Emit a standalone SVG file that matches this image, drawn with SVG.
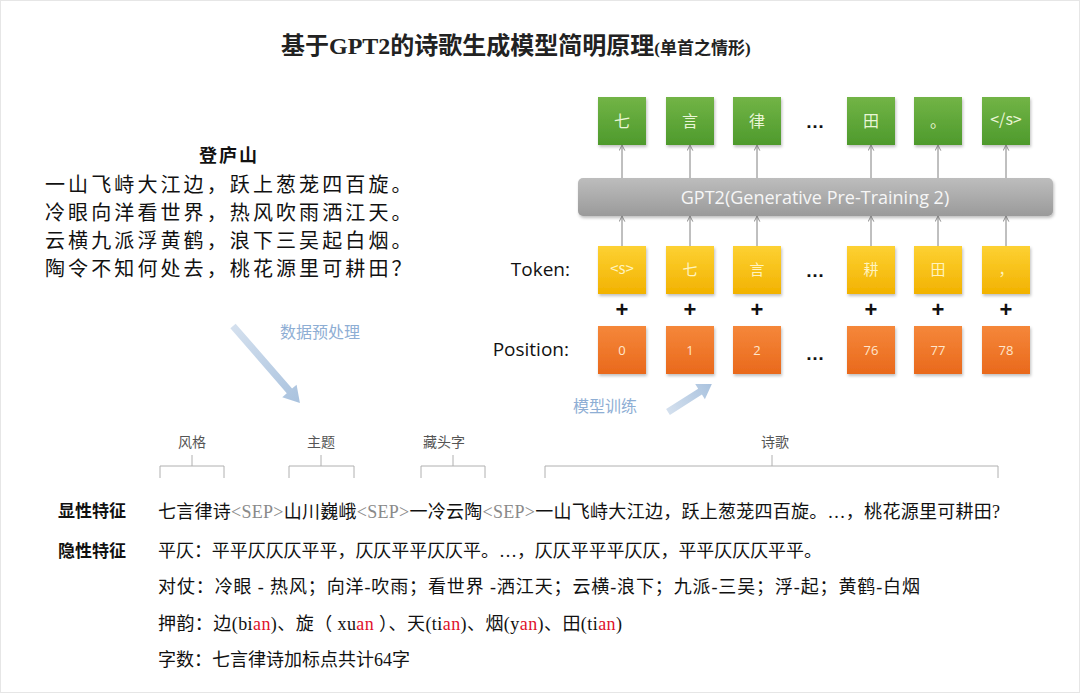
<svg xmlns="http://www.w3.org/2000/svg" width="1080" height="693" viewBox="0 0 1080 693">
<style>
.title{font-family:"Liberation Serif","Noto Sans CJK SC",serif;font-weight:bold;fill:#222}
.poem{font-family:"Noto Sans CJK SC",serif;fill:#111}
.lab{font-family:"Open Sans","Liberation Sans",sans-serif;font-size:19px;fill:#111}
.blue{font-family:"Noto Sans CJK SC",sans-serif;font-size:16px;fill:#8eaed4}
.gtxt{font-family:"Noto Sans CJK SC",sans-serif;font-size:16px;fill:#eaf6d6;text-anchor:middle}
.ytxt{font-family:"Noto Sans CJK SC",sans-serif;font-size:15px;fill:#fff3bf;text-anchor:middle}
.otxt{font-family:"Open Sans","Liberation Sans",sans-serif;font-size:13px;fill:#ffe6cc;text-anchor:middle}
.dots{font-family:"Liberation Sans",sans-serif;font-size:19px;font-weight:bold;fill:#111;text-anchor:middle}
.plus{font-family:"Liberation Sans",sans-serif;font-size:22px;font-weight:bold;fill:#111;text-anchor:middle}
.seg{font-family:"Noto Sans CJK SC",sans-serif;font-size:14px;fill:#555;text-anchor:middle}
.body{font-family:"Liberation Serif","Noto Sans CJK SC",serif;font-size:18px;fill:#111}
.head{font-family:"Noto Sans CJK SC",sans-serif;font-size:17px;font-weight:bold;fill:#111}
.sep{fill:#8a8a8a}
.red{fill:#e0102a}
.conn{stroke:#808080;stroke-width:1;fill:none;marker-end:url(#ah)}
.br{stroke:#b0b0b0;stroke-width:1;fill:none}
</style>
<defs>
<linearGradient id="gG" x1="0" y1="0" x2="0" y2="1"><stop offset="0" stop-color="#72b446"/><stop offset="1" stop-color="#4e9a2c"/></linearGradient>
<linearGradient id="gY" x1="0" y1="0" x2="0" y2="1"><stop offset="0" stop-color="#fdd133"/><stop offset="1" stop-color="#f2b200"/></linearGradient>
<linearGradient id="gO" x1="0" y1="0" x2="0" y2="1"><stop offset="0" stop-color="#f5873a"/><stop offset="1" stop-color="#e9691c"/></linearGradient>
<linearGradient id="gB" x1="0" y1="0" x2="0" y2="1"><stop offset="0" stop-color="#bdbdbd"/><stop offset="1" stop-color="#9a9a9a"/></linearGradient>
<linearGradient id="gA" x1="0" y1="0" x2="1" y2="0"><stop offset="0" stop-color="#d4e0ee"/><stop offset="1" stop-color="#a9c2de"/></linearGradient>
<filter id="sh" x="-20%" y="-20%" width="140%" height="140%"><feDropShadow dx="1" dy="2" stdDeviation="1.5" flood-color="#000" flood-opacity="0.25"/></filter>
<marker id="ah" viewBox="0 0 10 10" refX="9" refY="5" markerWidth="7" markerHeight="7" orient="auto"><path d="M1,1 L9,5 L1,9" fill="none" stroke="#808080" stroke-width="1.3"/></marker>
</defs>
<rect x="0.5" y="0.5" width="1079" height="692" fill="#fff" stroke="#e6e6e6"/>

<g id="title"><text class="title" x="281" y="54" font-size="24">基于GPT2的诗歌生成模型简明原理<tspan font-size="17">(单首之情形)</tspan></text></g>

<g id="poem">
<text class="poem" x="229" y="162" font-size="18" font-weight="bold" text-anchor="middle" letter-spacing="2">登庐山</text>
<text class="poem" x="45" y="192" font-size="20" letter-spacing="3.1">一山飞峙大江边，跃上葱茏四百旋。</text>
<text class="poem" x="45" y="220" font-size="20" letter-spacing="3.1">冷眼向洋看世界，热风吹雨洒江天。</text>
<text class="poem" x="45" y="248" font-size="20" letter-spacing="3.1">云横九派浮黄鹤，浪下三吴起白烟。</text>
<text class="poem" x="45" y="276" font-size="20" letter-spacing="3.1">陶令不知何处去，桃花源里可耕田？</text>
</g>

<g id="preprocess">
<polygon points="0,-3.5 86,-3.5 86,-9.5 102,0 86,9.5 86,3.5 0,3.5" fill="url(#gA)" transform="translate(233,326) rotate(49)"/>
<text class="blue" x="280" y="338">数据预处理</text>
</g>
<g id="train">
<polygon points="0,-3.5 38,-3.5 38,-9 52,0 38,9 38,3.5 0,3.5" fill="url(#gA)" transform="translate(668,412) rotate(-32.5)"/>
<text class="blue" x="573" y="412">模型训练</text>
</g>

<g id="outputs">
<rect x="598" y="97" width="48" height="48" fill="url(#gG)" filter="url(#sh)"/><text class="gtxt" x="622" y="127">七</text>
<rect x="666" y="97" width="48" height="48" fill="url(#gG)" filter="url(#sh)"/><text class="gtxt" x="690" y="127">言</text>
<rect x="733" y="97" width="48" height="48" fill="url(#gG)" filter="url(#sh)"/><text class="gtxt" x="757" y="127">律</text>
<text class="dots" x="815" y="128">…</text>
<rect x="847" y="97" width="48" height="48" fill="url(#gG)" filter="url(#sh)"/><text class="gtxt" x="871" y="127">田</text>
<rect x="914" y="97" width="48" height="48" fill="url(#gG)" filter="url(#sh)"/><text class="gtxt" x="938" y="127">。</text>
<rect x="982" y="97" width="48" height="48" fill="url(#gG)" filter="url(#sh)"/><text class="gtxt" x="1006" y="125" font-size="10">&lt;/s&gt;</text>
</g>

<g id="gpt2">
<rect x="578" y="178" width="475" height="38" rx="5" fill="url(#gB)" filter="url(#sh)"/>
<text x="815" y="204" font-family="Open Sans, Liberation Sans, sans-serif" font-size="18" fill="#f6f6f6" text-anchor="middle">GPT2(Generative Pre-Training 2)</text>
</g>

<g id="tokens">
<text class="lab" x="570" y="276" text-anchor="end">Token:</text>
<rect x="598" y="246" width="48" height="48" fill="url(#gY)" filter="url(#sh)"/><text class="ytxt" x="622" y="274" font-size="9">&lt;s&gt;</text>
<rect x="666" y="246" width="48" height="48" fill="url(#gY)" filter="url(#sh)"/><text class="ytxt" x="690" y="275">七</text>
<rect x="733" y="246" width="48" height="48" fill="url(#gY)" filter="url(#sh)"/><text class="ytxt" x="757" y="275">言</text>
<text class="dots" x="815" y="277">…</text>
<rect x="847" y="246" width="48" height="48" fill="url(#gY)" filter="url(#sh)"/><text class="ytxt" x="871" y="275">耕</text>
<rect x="914" y="246" width="48" height="48" fill="url(#gY)" filter="url(#sh)"/><text class="ytxt" x="938" y="275">田</text>
<rect x="982" y="246" width="48" height="48" fill="url(#gY)" filter="url(#sh)"/><text class="ytxt" x="1006" y="275">，</text>
</g>

<g id="plus">
<text class="plus" x="622" y="317">+</text><text class="plus" x="690" y="317">+</text><text class="plus" x="757" y="317">+</text>
<text class="plus" x="871" y="317">+</text><text class="plus" x="938" y="317">+</text><text class="plus" x="1006" y="317">+</text>
</g>

<g id="positions">
<text class="lab" x="569" y="356" text-anchor="end">Position:</text>
<rect x="598" y="326" width="48" height="48" fill="url(#gO)" filter="url(#sh)"/><text class="otxt" x="622" y="355">0</text>
<rect x="666" y="326" width="48" height="48" fill="url(#gO)" filter="url(#sh)"/><text class="otxt" x="690" y="355">1</text>
<rect x="733" y="326" width="48" height="48" fill="url(#gO)" filter="url(#sh)"/><text class="otxt" x="757" y="355">2</text>
<text class="dots" x="815" y="360">…</text>
<rect x="847" y="326" width="48" height="48" fill="url(#gO)" filter="url(#sh)"/><text class="otxt" x="871" y="355">76</text>
<rect x="914" y="326" width="48" height="48" fill="url(#gO)" filter="url(#sh)"/><text class="otxt" x="938" y="355">77</text>
<rect x="982" y="326" width="48" height="48" fill="url(#gO)" filter="url(#sh)"/><text class="otxt" x="1006" y="355">78</text>
</g>

<g id="connectors">
<path class="conn" d="M622,178 V145"/><path class="conn" d="M690,178 V145"/><path class="conn" d="M757,178 V145"/>
<path class="conn" d="M871,178 V145"/><path class="conn" d="M938,178 V145"/><path class="conn" d="M1006,178 V145"/>
<path class="conn" d="M622,246 V216"/><path class="conn" d="M690,246 V216"/><path class="conn" d="M757,246 V216"/>
<path class="conn" d="M871,246 V216"/><path class="conn" d="M938,246 V216"/><path class="conn" d="M1006,246 V216"/>
</g>

<g id="segments">
<text class="seg" x="192" y="447">风格</text>
<text class="seg" x="321" y="447">主题</text>
<text class="seg" x="444" y="447">藏头字</text>
<text class="seg" x="775" y="447">诗歌</text>
<path class="br" d="M192,455 V466 M160,478 V466 H224 V478"/>
<path class="br" d="M321,455 V466 M289,478 V466 H354 V478"/>
<path class="br" d="M453,455 V466 M421,478 V466 H485 V478"/>
<path class="br" d="M772,455 V466 M545,478 V466 H998 V478"/>
</g>

<g id="explicit">
<text class="head" x="58" y="517">显性特征</text>
<text class="body" x="158" y="518" textLength="842" lengthAdjust="spacing">七言律诗<tspan class="sep">&lt;SEP&gt;</tspan>山川巍峨<tspan class="sep">&lt;SEP&gt;</tspan>一冷云陶<tspan class="sep">&lt;SEP&gt;</tspan>一山飞峙大江边，跃上葱茏四百旋。…，桃花源里可耕田?</text>
</g>

<g id="implicit">
<text class="head" x="58" y="557">隐性特征</text>
<text class="body" x="158" y="557" textLength="664" lengthAdjust="spacing">平仄：平平仄仄仄平平，仄仄平平仄仄平。…，仄仄平平平仄仄，平平仄仄仄平平。</text>
<text class="body" x="158" y="593" textLength="762" lengthAdjust="spacing">对仗：冷眼 - 热风；向洋-吹雨；看世界 -洒江天；云横-浪下；九派-三吴；浮-起；黄鹤-白烟</text>
<text class="body" x="158" y="630" textLength="464" lengthAdjust="spacing">押韵：边(bi<tspan class="red">an</tspan>)、旋（ xu<tspan class="red">an</tspan> ）、天(ti<tspan class="red">an</tspan>)、烟(y<tspan class="red">an</tspan>)、田(ti<tspan class="red">an</tspan>)</text>
<text class="body" x="158" y="666">字数：七言律诗加标点共计64字</text>
</g>
</svg>
